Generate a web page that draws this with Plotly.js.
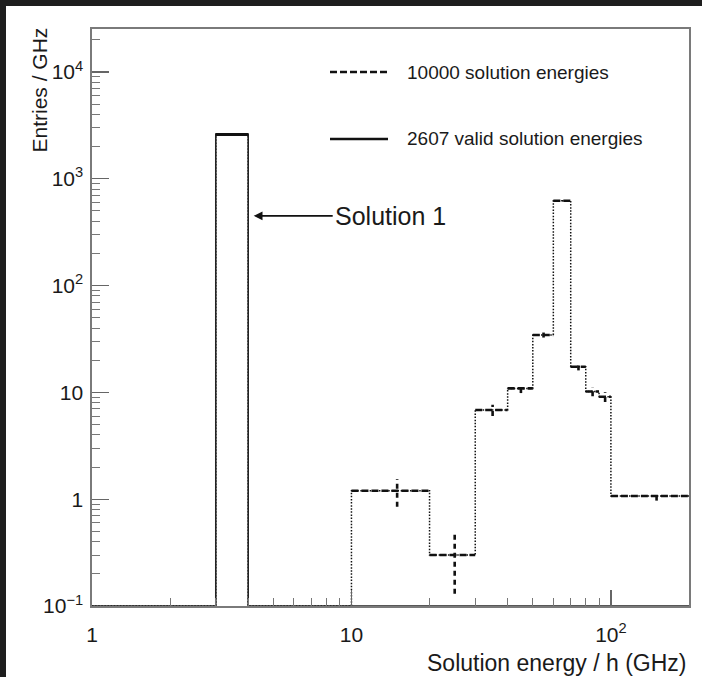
<!DOCTYPE html>
<html><head><meta charset="utf-8">
<script src="https://cdn.plot.ly/plotly-3.0.1.min.js"></script>
<style>
html,body{margin:0;padding:0;background:#1e1e1e;width:702px;height:677px;overflow:hidden}
#chart{position:absolute;left:6px;top:6px;width:696px;height:671px;background:#fff}
</style></head><body><div id="chart"></div>
<script>
// ---- data (entries / GHz per bin) ----
const binEdges        = [1, 3, 4, 10, 20, 30, 40, 50, 60, 70, 80, 90, 100, 200];
const allSolutions    = [0, 2607, 0, 1.2, 0.3, 6.85, 10.9, 34.5, 624, 17.4, 10.2, 9.1, 1.07];
const allErrors       = [0, 51, 0, 0.35, 0.17, 0.83, 1.04, 1.86, 7.9, 1.32, 1.01, 0.95, 0.10];
const validSolutions  = [0, 2607, 0, 0, 0, 0, 0, 0, 0, 0, 0, 0, 0];
const validErrors     = [0, 51, 0, 0, 0, 0, 0, 0, 0, 0, 0, 0, 0];
const legendLabels    = ['10000 solution energies', '2607 valid solution energies'];
const xTickVals = [1, 10, 100];
const xTickText = ['1', '10', '10<sup>2</sup>'];
const yTickVals = [0.1, 1, 10, 100, 1000, 10000];
const yTickText = ['10<sup>\u22121</sup>', '1', '10', '10<sup>2</sup>', '10<sup>3</sup>', '10<sup>4</sup>'];
const xMinor = [2,3,4,5,6,7,8,9,20,30,40,50,60,70,80,90,200];
const yMinor = [];
[0.1,1,10,100,1000,10000].forEach(d => { for (let k = 2; k <= 9; k++) yMinor.push(d*k); });

// ---- helpers ----
const FLOOR = 0.1;
const clamp = v => (v > FLOOR ? v : FLOOR);
function stepXY(vals) {
  const y = vals.map(clamp); y.push(y[y.length-1]);
  return {x: binEdges.slice(), y: y};
}
function tops(vals) {
  const x = [], y = [];
  vals.forEach((v, i) => { if (v > 0) { x.push(binEdges[i], binEdges[i+1], null); y.push(v, v, null); } });
  return {x, y};
}
function vErr(vals, errs) {
  const x = [], y = [];
  vals.forEach((v, i) => { if (v > 0) { const c = (binEdges[i] + binEdges[i+1]) / 2; x.push(c, c, null); y.push(clamp(v - errs[i]), v + errs[i], null); } });
  return {x, y};
}

const FONT = '"Liberation Sans", Arial, Helvetica, sans-serif';
const INK = '#1a1a1a';

const sAll = stepXY(allSolutions), tAll = tops(allSolutions), eAll = vErr(allSolutions, allErrors);
const sVal = stepXY(validSolutions), tVal = tops(validSolutions);

const traces = [
  {x: sAll.x, y: sAll.y, mode: 'lines', line: {shape: 'hv', color: '#111', width: 1.5, dash: '1.5px,1.6px'}, name: legendLabels[0], hoverinfo: 'skip'},
  {x: tAll.x, y: tAll.y, mode: 'lines', line: {color: '#111', width: 2.6, dash: '7px,3px'}, name: legendLabels[0], hoverinfo: 'skip'},
  {x: eAll.x, y: eAll.y, mode: 'lines', line: {color: '#111', width: 2.6, dash: '5px,4px'}, name: legendLabels[0], hoverinfo: 'skip'},
  {x: sVal.x, y: sVal.y, mode: 'lines', line: {shape: 'hv', color: '#222', width: 1.6}, name: legendLabels[1], hoverinfo: 'skip'},
  {x: tVal.x, y: tVal.y, mode: 'lines', line: {color: '#111', width: 3}, name: legendLabels[1], hoverinfo: 'skip'}
];

// pixel -> paper helpers for the plot area (x: 92..689, y: 29..606 in page px)
const PL = 92, PR = 689, PT = 29, PB = 606;
const px = v => (v - PL) / (PR - PL);
const py = v => (PB - v) / (PB - PT);

const axisCommon = {
  type: 'log', showgrid: false, zeroline: false, showline: true, mirror: true,
  linecolor: '#7a7a7a', linewidth: 1.6, ticks: 'inside', tickcolor: '#666', tickwidth: 1.2,
  tickmode: 'array', tickfont: {family: FONT, size: 21, color: INK},
  minor: {ticks: 'inside', ticklen: 8, tickcolor: '#777', tickwidth: 1, showgrid: false, tickmode: 'array'}
};

const layout = {
  width: 696, height: 671,
  margin: {l: 86, r: 13, t: 23, b: 71},
  paper_bgcolor: '#ffffff', plot_bgcolor: '#ffffff',
  showlegend: false,
  font: {family: FONT, color: INK},
  xaxis: Object.assign({}, axisCommon, {
    range: [0, Math.log10(200)], tickvals: xTickVals, ticktext: xTickText, ticklen: 16, ticklabelstandoff: 9,
    minor: Object.assign({}, axisCommon.minor, {tickvals: xMinor})
  }),
  yaxis: Object.assign({}, axisCommon, {
    range: [-1, 4.403], tickvals: yTickVals, ticktext: yTickText, ticklen: 17, ticklabelstandoff: 3,
    minor: Object.assign({}, axisCommon.minor, {tickvals: yMinor})
  }),
  shapes: [
    {type: 'line', xref: 'paper', yref: 'paper', x0: px(330), x1: px(388), y0: py(72), y1: py(72), line: {color: '#111', width: 2.6, dash: '7px,3px'}},
    {type: 'line', xref: 'paper', yref: 'paper', x0: px(330), x1: px(388), y0: py(139), y1: py(139), line: {color: '#111', width: 2.6}}
  ],
  annotations: [
    {text: legendLabels[0], xref: 'paper', yref: 'paper', x: px(405), y: py(72), xanchor: 'left', yanchor: 'middle', showarrow: false, font: {family: FONT, size: 19, color: INK}},
    {text: legendLabels[1], xref: 'paper', yref: 'paper', x: px(405), y: py(139), xanchor: 'left', yanchor: 'middle', showarrow: false, font: {family: FONT, size: 19, color: INK}},
    {text: 'Solution 1', xref: 'x', yref: 'y', x: Math.log10(4.2), y: Math.log10(450), ax: 79, ay: 0, xanchor: 'left', yanchor: 'middle',
     showarrow: true, arrowhead: 2, arrowsize: 1.1, arrowwidth: 1.6, arrowcolor: '#111', standoff: 0, font: {family: FONT, size: 25, color: INK}},
    {text: 'Solution energy / h (GHz)', xref: 'paper', yref: 'paper', x: 1, y: py(663), xanchor: 'right', yanchor: 'middle', showarrow: false, font: {family: FONT, size: 23, color: INK}},
    {text: 'Entries / GHz', xref: 'paper', yref: 'paper', x: px(39), y: py(26), xanchor: 'center', yanchor: 'top', textangle: -90, showarrow: false, font: {family: FONT, size: 21, color: INK}}
  ]
};

Plotly.newPlot('chart', traces, layout, {staticPlot: true, displayModeBar: false});
</script></body></html>
